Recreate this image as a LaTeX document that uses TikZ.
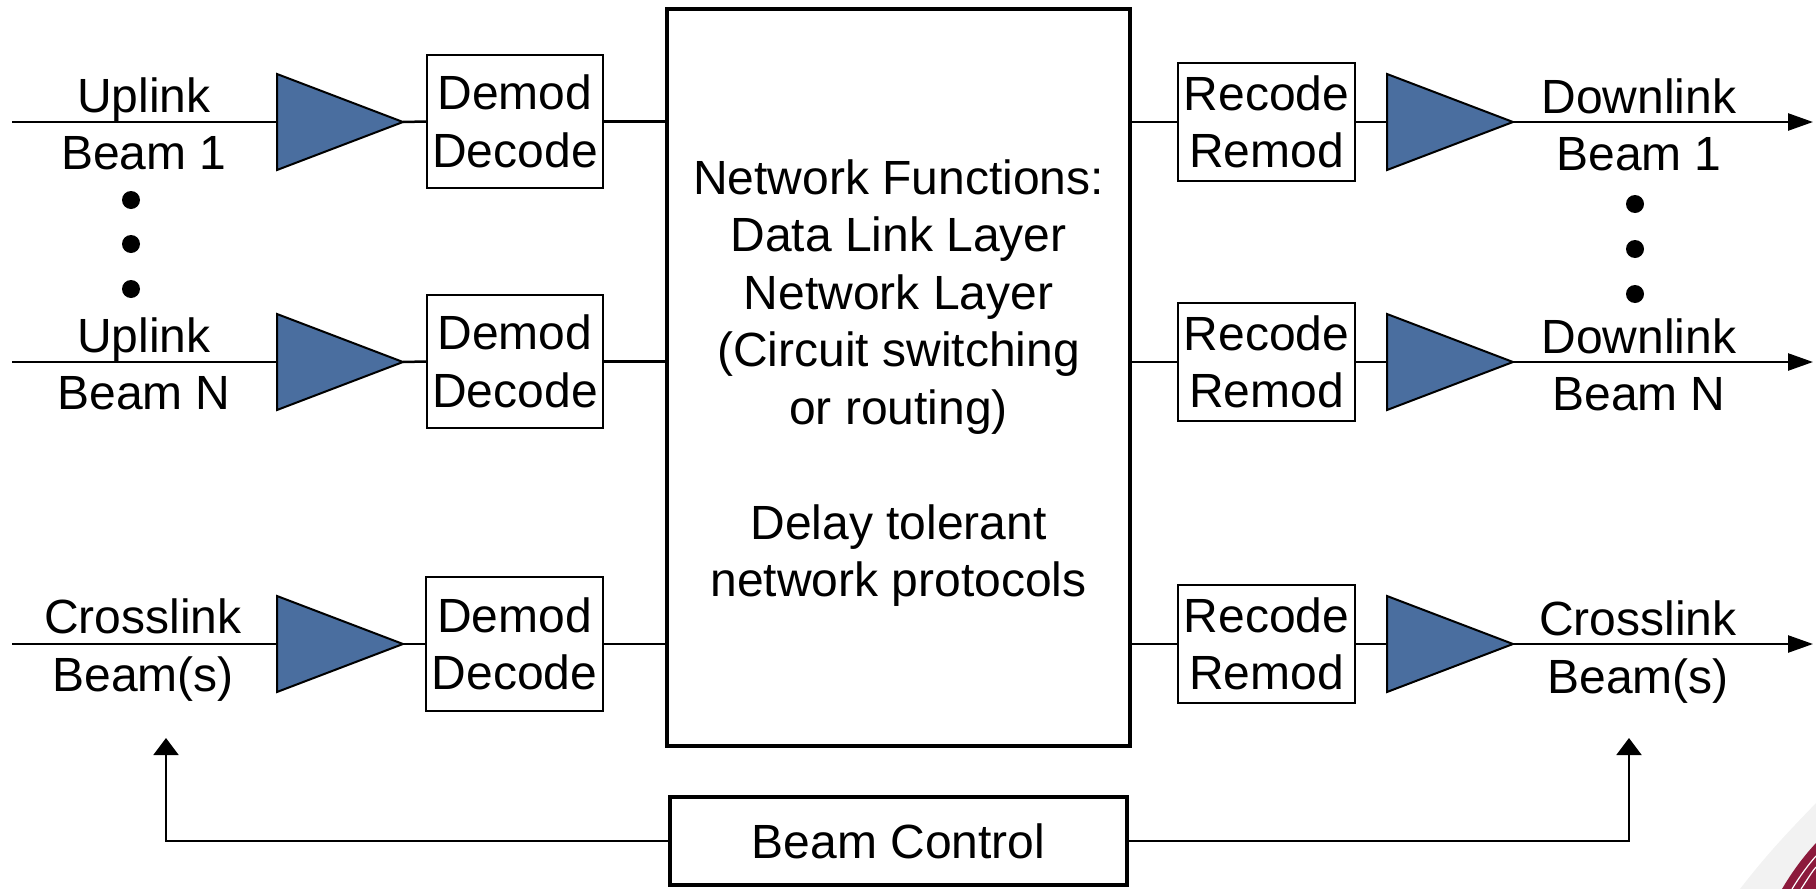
\documentclass[tikz,border=0pt]{standalone}
\usepackage{fontspec}
\setmainfont{Liberation Sans}
\usetikzlibrary{arrows.meta}
\definecolor{ampblue}{HTML}{4A6E9F}
\definecolor{swoosh}{HTML}{8C1A3C}
\tikzset{
  bigfont/.style={font=\fontsize{48}{57.5}\selectfont},
  lbl/.style={bigfont, inner sep=0pt, anchor=base},
  procbox/.style={draw, line width=2pt, fill=white, inner sep=0pt, align=center, bigfont, minimum height=#1},
  wire/.style={line width=2.5pt},
  thinwire/.style={line width=2pt},
  ampstyle/.style={fill=ampblue, draw=black, line width=2pt, line join=miter},
  outarrow/.style={wire, -{Triangle[length=25pt, width=17pt]}},
  fbarrow/.style={thinwire, -{Triangle[length=17pt, width=25pt]}},
  dotstyle/.style={fill=black}
}
\newcommand{\ampshape}[3]{%
  \coordinate (#1in) at (#2,#3);
  \coordinate (#1out) at ({#2+126},#3);
  \filldraw[ampstyle] (#2,{#3-48}) -- ({#2+126},#3) -- (#2,{#3+48}) -- cycle;}
\begin{document}
\begin{tikzpicture}[x=1pt,y=-1pt]
\useasboundingbox (0,0) rectangle (1816,889);

% background decoration bottom right
\fill[gray!10] (1740,889) .. controls (1770,850) and (1795,825) .. (1816,803) -- (1816,889) -- cycle;
\fill[swoosh] (1782,889) .. controls (1792,872) and (1803,857) .. (1816,843) -- (1816,889) -- cycle;
\draw[white, line width=1.2pt] (1792,889) .. controls (1800,876) and (1808,865) .. (1816,856);
\draw[white, line width=1.2pt] (1801,889) .. controls (1807,880) and (1811,873) .. (1816,867);

% main box
\node[draw, line width=4.5pt, minimum width=463pt, minimum height=737pt, inner sep=0pt] (main) at (898.5,377.5) {};
\node[bigfont, align=center, inner sep=0pt] (mtext) at (898.5,383) {Network Functions:\\Data Link Layer\\Network Layer\\(Circuit switching\\or routing)\\[57.5pt]Delay tolerant\\network protocols};

% beam control
\node[draw, line width=4.5pt, minimum width=457pt, minimum height=88pt, inner sep=0pt, bigfont] (bc) at (898.5,841) {Beam Control};

% demod boxes
\node[procbox=133pt, minimum width=176pt] (d1) at (515,121.5) {Demod\\Decode};
\node[procbox=133pt, minimum width=176pt] (d2) at (515,361.5) {Demod\\Decode};
\node[procbox=134pt, minimum width=177pt] (d3) at (514.5,644) {Demod\\Decode};

% recode boxes
\node[procbox=118pt, minimum width=177pt] (r1) at (1266.5,122) {Recode\\Remod};
\node[procbox=118pt, minimum width=177pt] (r2) at (1266.5,362) {Recode\\Remod};
\node[procbox=118pt, minimum width=177pt] (r3) at (1266.5,644) {Recode\\Remod};

% amplifiers
\ampshape{aL1}{277}{122}
\ampshape{aL2}{277}{362}
\ampshape{aL3}{277}{644}
\ampshape{aR1}{1387}{122}
\ampshape{aR2}{1387}{362}
\ampshape{aR3}{1387}{644}

% input/output end points
\coordinate (in1) at (12,122);
\coordinate (in2) at (12,362);
\coordinate (in3) at (12,644);
\coordinate (out1) at (1813,122);
\coordinate (out2) at (1813,362);
\coordinate (out3) at (1813,644);

% wires left
\foreach \i in {1,2,3}{
  \draw[wire] (in\i) -- (aL\i in);
  \draw[wire] (aL\i out) -- (d\i.west);
  \draw[wire] (d\i.east) -- (d\i.east -| main.west);
  \draw[wire] (r\i.west -| main.east) -- (r\i.west);
  \draw[wire] (r\i.east) -- (aR\i in);
  \draw[outarrow] (aR\i out) -- (out\i);
}

% labels
\node[lbl] (ul1a) at (144,112) {Uplink};
\node[lbl] (ul1b) at (144,169) {Beam 1};
\node[lbl] (ul2a) at (144,352) {Uplink};
\node[lbl] (ul2b) at (144,409) {Beam N};
\node[lbl] (cl1a) at (143,633) {Crosslink};
\node[lbl] (cl1b) at (143,691) {Beam(s)};
\node[lbl] (dl1a) at (1639,113) {Downlink};
\node[lbl] (dl1b) at (1639,170) {Beam 1};
\node[lbl] (dl2a) at (1639,353) {Downlink};
\node[lbl] (dl2b) at (1639,410) {Beam N};
\node[lbl] (cl2a) at (1638,635) {Crosslink};
\node[lbl] (cl2b) at (1638,693) {Beam(s)};

% dots
\foreach \yy [count=\k] in {200,244,289}{
  \fill[dotstyle] (131,\yy) circle (9pt);
}
\foreach \yy [count=\k] in {204,249,294}{
  \fill[dotstyle] (1635,\yy) circle (9pt);
}

% feedback arrows
\coordinate (fbL) at (166,738);
\coordinate (fbR) at (1629,738);
\draw[fbarrow] (bc.west) -- (bc.west -| fbL) -- (fbL);
\draw[fbarrow] (bc.east) -- (bc.east -| fbR) -- (fbR);
\end{tikzpicture}
\end{document}
